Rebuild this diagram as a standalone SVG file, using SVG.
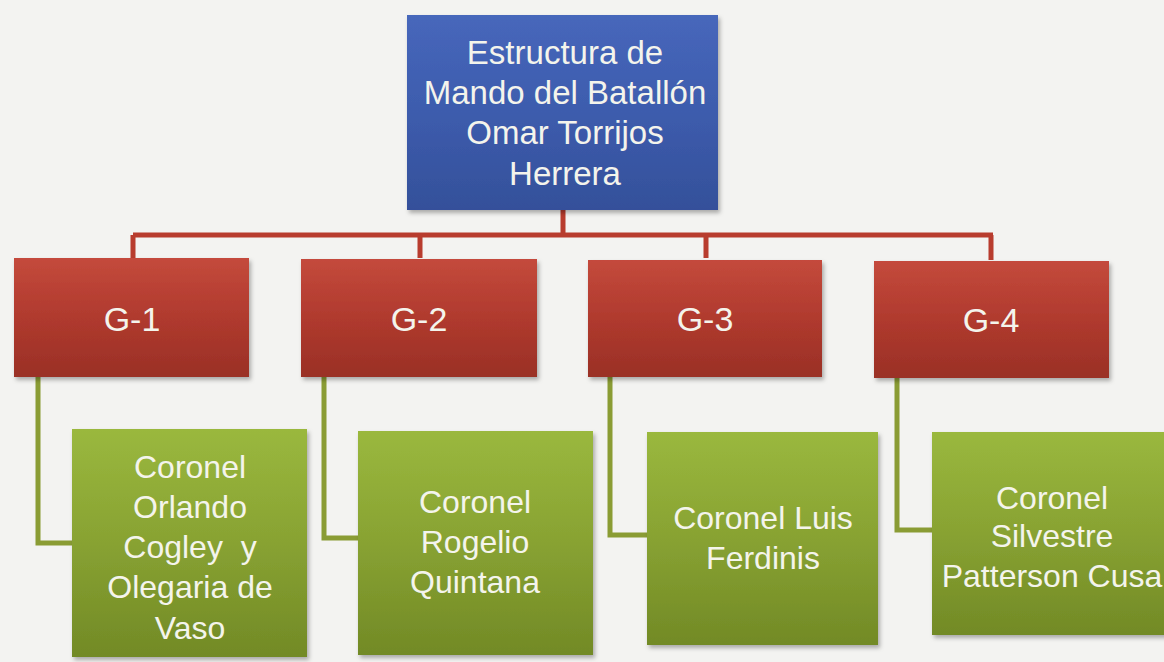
<svg xmlns="http://www.w3.org/2000/svg" width="1164" height="662" viewBox="0 0 1164 662">
<defs>
<linearGradient id="gBlue" x1="0" y1="0" x2="0" y2="1">
<stop offset="0" stop-color="#4767bb"/>
<stop offset="0.5" stop-color="#3d5cad"/>
<stop offset="1" stop-color="#34509a"/>
</linearGradient>
<linearGradient id="gRed" x1="0" y1="0" x2="0" y2="1">
<stop offset="0" stop-color="#c44a3c"/>
<stop offset="0.5" stop-color="#b03a2e"/>
<stop offset="1" stop-color="#9a3026"/>
</linearGradient>
<linearGradient id="gGreen" x1="0" y1="0" x2="0" y2="1">
<stop offset="0" stop-color="#9ab83e"/>
<stop offset="0.5" stop-color="#88a232"/>
<stop offset="1" stop-color="#728a26"/>
</linearGradient>
<filter id="sh" x="-5%" y="-5%" width="112%" height="115%">
<feDropShadow dx="2" dy="3" stdDeviation="2" flood-color="#000" flood-opacity="0.3"/>
</filter>
</defs>
<style>
.t{font-family:"Liberation Sans",Arial,sans-serif;fill:#f4f4ec;text-anchor:middle}
.top{font-size:33px}
.g{font-size:34px}
.c{font-size:32px}
.red{stroke:#b83c2e;stroke-width:5;fill:none}
.grn{stroke:#8a9c34;stroke-width:5;fill:none}
.box{filter:url(#sh)}
</style>
<rect width="1164" height="662" fill="#f3f3f1"/>
<g id="connectors">
<path class="red" d="M563 210 V235 M133 235 H993 M133 235 V258 M420 235 V258 M706 235 V258 M991 235 V260"/>
<path class="grn" d="M38 377 V543 H72"/>
<path class="grn" d="M324 377 V538 H358"/>
<path class="grn" d="M610 377 V535 H647"/>
<path class="grn" d="M897 378 V530 H932"/>
</g>
<g id="node-top">
<rect class="box" x="407" y="15" width="311" height="195" fill="url(#gBlue)"/>
<text class="t top" x="565" y="64">Estructura de</text>
<text class="t top" x="565" y="104">Mando del Batallón</text>
<text class="t top" x="565" y="144">Omar Torrijos</text>
<text class="t top" x="565" y="185">Herrera</text>
</g>
<g id="node-g1">
<rect class="box" x="14" y="258" width="235" height="119" fill="url(#gRed)"/>
<text class="t g" x="132" y="331">G-1</text>
</g>
<g id="node-g2">
<rect class="box" x="301" y="259" width="236" height="118" fill="url(#gRed)"/>
<text class="t g" x="419" y="331">G-2</text>
</g>
<g id="node-g3">
<rect class="box" x="588" y="260" width="234" height="117" fill="url(#gRed)"/>
<text class="t g" x="705" y="331">G-3</text>
</g>
<g id="node-g4">
<rect class="box" x="874" y="261" width="235" height="117" fill="url(#gRed)"/>
<text class="t g" x="991" y="332">G-4</text>
</g>
<g id="node-c1">
<rect class="box" x="72" y="429" width="235" height="228" fill="url(#gGreen)"/>
<text class="t c" x="190" y="478">Coronel</text>
<text class="t c" x="190" y="518">Orlando</text>
<text class="t c" x="190" y="558">Cogley&#160; y</text>
<text class="t c" x="190" y="598">Olegaria de</text>
<text class="t c" x="190" y="639">Vaso</text>
</g>
<g id="node-c2">
<rect class="box" x="358" y="431" width="235" height="224" fill="url(#gGreen)"/>
<text class="t c" x="475" y="513">Coronel</text>
<text class="t c" x="475" y="553">Rogelio</text>
<text class="t c" x="475" y="593">Quintana</text>
</g>
<g id="node-c3">
<rect class="box" x="647" y="432" width="231" height="213" fill="url(#gGreen)"/>
<text class="t c" x="763" y="529">Coronel Luis</text>
<text class="t c" x="763" y="569">Ferdinis</text>
</g>
<g id="node-c4">
<rect class="box" x="932" y="432" width="240" height="203" fill="url(#gGreen)"/>
<text class="t c" x="1052" y="509">Coronel</text>
<text class="t c" x="1052" y="547">Silvestre</text>
<text class="t c" x="1052" y="587">Patterson Cusa</text>
</g>
</svg>
